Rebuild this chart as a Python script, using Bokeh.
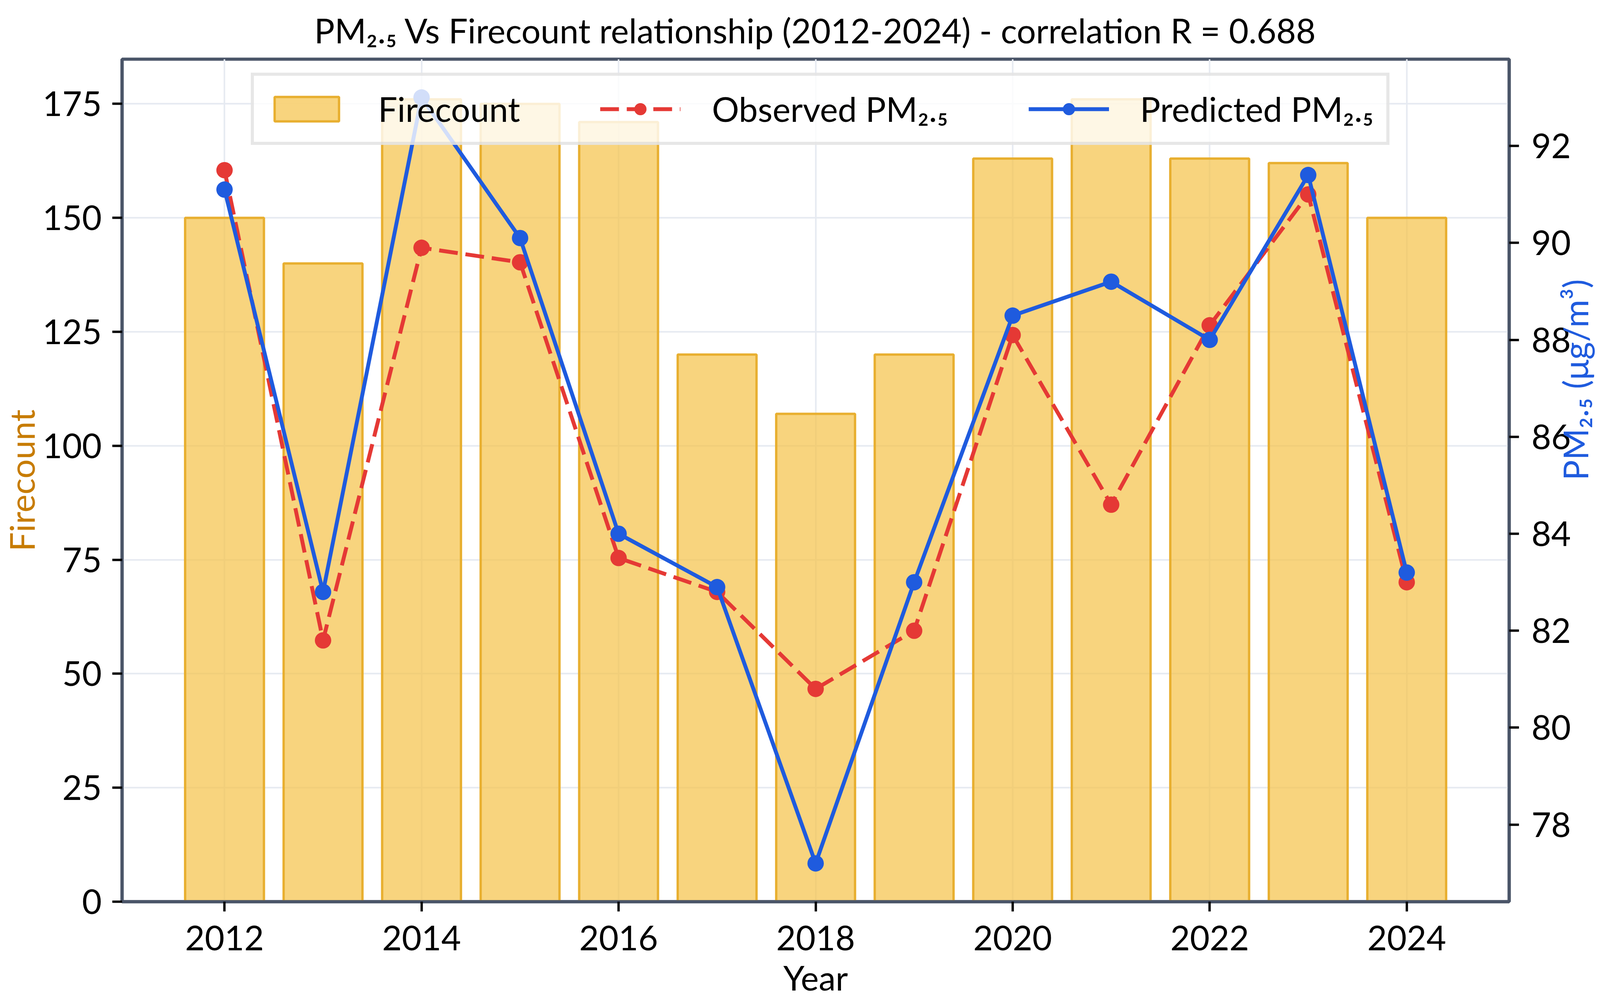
import math
from bokeh.plotting import figure
from bokeh.models import (Range1d, LinearAxis, FixedTicker, Legend, LegendItem,
                          ColumnDataSource)
from bokeh.embed import file_html
from bokeh.resources import INLINE

years = [2012, 2013, 2014, 2015, 2016, 2017, 2018, 2019, 2020, 2021, 2022, 2023, 2024]
firecount = [150, 140, 176, 175, 171, 120, 107, 120, 163, 176, 163, 162, 150]
observed_pm25 = [91.5, 81.8, 89.9, 89.6, 83.5, 82.8, 80.8, 82.0, 88.1, 84.6, 88.3, 91.0, 83.0]
predicted_pm25 = [91.1, 82.8, 93.0, 90.1, 84.0, 82.9, 77.2, 83.0, 88.5, 89.2, 88.0, 91.4, 83.2]

x_ticks = [2012, 2014, 2016, 2018, 2020, 2022, 2024]
left_ticks = [0, 25, 50, 75, 100, 125, 150, 175]
right_ticks = [78, 80, 82, 84, 86, 88, 90, 92]

title_text = "PM\u2082.\u2085 Vs Firecount relationship (2012-2024) - correlation R = 0.688"
FONT = "Lato"
FS = "87px"
SPINE = "#4A5568"
BAR_FILL = "#F5C247"
BAR_EDGE = "#E8AF30"
RED = "#E53935"
BLUE = "#1F5BDE"
GRID = "#E6EAF1"

W, H = 4140, 2557
BL, BR, BT, BB = 310, 270, 144, 239

src = ColumnDataSource(dict(year=years, fire=firecount, obs=observed_pm25, pred=predicted_pm25))

p = figure(width=W, height=H,
           x_range=Range1d(2010.96, 2025.04), y_range=Range1d(0, 184.8),
           output_backend="svg", toolbar_location=None,
           min_border_left=BL, min_border_right=BR, min_border_top=BT, min_border_bottom=BB)
p.extra_y_ranges = {"pm": Range1d(76.41, 93.79)}

p.title.text = title_text
p.title.text_font = FONT
p.title.text_font_size = FS
p.title.text_font_style = "normal"
p.title.text_color = "black"
p.title.align = "center"
p.title.standoff = 44

p.outline_line_color = SPINE
p.outline_line_width = 8
p.background_fill_color = "white"
p.border_fill_color = "white"

bars = p.vbar(x="year", top="fire", width=0.8, source=src,
              fill_color=BAR_FILL, fill_alpha=0.7, line_color=BAR_EDGE, line_width=6)

red_line = p.line(x="year", y="obs", source=src, y_range_name="pm",
                  line_color=RED, line_width=10, line_dash="48 20")
red_pts = p.scatter(x="year", y="obs", source=src, y_range_name="pm",
                    size=42, fill_color=RED, line_color=RED, line_width=0)
blue_line = p.line(x="year", y="pred", source=src, y_range_name="pm",
                   line_color=BLUE, line_width=10)
blue_pts = p.scatter(x="year", y="pred", source=src, y_range_name="pm",
                     size=42, fill_color=BLUE, line_color=BLUE, line_width=0)
for r in (red_line, red_pts, blue_line, blue_pts):
    r.level = "overlay"

p.xgrid.ticker = FixedTicker(ticks=x_ticks)
p.ygrid.ticker = FixedTicker(ticks=left_ticks)
for g in (p.xgrid[0], p.ygrid[0]):
    g.grid_line_color = GRID
    g.grid_line_width = 4

def style_axis(ax):
    ax.axis_line_color = SPINE
    ax.axis_line_width = 8
    ax.major_tick_line_color = "black"
    ax.major_tick_line_width = 6
    ax.major_tick_out = 25
    ax.major_tick_in = 0
    ax.minor_tick_line_color = None
    ax.major_label_text_font = FONT
    ax.major_label_text_font_size = FS
    ax.major_label_text_color = "black"
    ax.axis_label_text_font = FONT
    ax.axis_label_text_font_size = FS
    ax.axis_label_text_font_style = "normal"

xa = p.xaxis[0]
xa.ticker = FixedTicker(ticks=x_ticks)
xa.axis_label = "Year"
style_axis(xa)
xa.major_label_standoff = 36
xa.axis_label_standoff = 14
xa.axis_label_text_color = "black"

ya = p.yaxis[0]
ya.ticker = FixedTicker(ticks=left_ticks)
ya.axis_label = "Firecount"
style_axis(ya)
ya.major_label_standoff = 27
ya.axis_label_standoff = -2
ya.axis_label_text_color = "#C77C02"

ra = LinearAxis(y_range_name="pm", ticker=FixedTicker(ticks=right_ticks),
                axis_label="PM\u2082.\u2085 (\u03bcg/m\u00b3)")
style_axis(ra)
ra.major_label_standoff = 32
ra.axis_label_standoff = 8
ra.axis_label_text_color = BLUE
ra.axis_label_orientation = math.pi / 2
p.add_layout(ra, "right")

legend = Legend(items=[
    LegendItem(label="Firecount", renderers=[bars]),
    LegendItem(label="Observed PM\u2082.\u2085", renderers=[red_line, red_pts]),
    LegendItem(label="Predicted PM\u2082.\u2085", renderers=[blue_line, blue_pts]),
], orientation="horizontal", location=(330, 1937))
legend.label_text_font = FONT
legend.label_text_font_size = FS
legend.label_text_color = "black"
legend.glyph_width = 206
legend.glyph_height = 78
legend.label_standoff = 80
legend.spacing = 205
legend.padding = 32
legend.margin = 0
legend.border_line_color = "#D0D0D0"
legend.border_line_width = 8
legend.background_fill_color = "white"
legend.background_fill_alpha = 0.8
p.add_layout(legend, "center")

open("out.html", "w").write(file_html(p, INLINE))
